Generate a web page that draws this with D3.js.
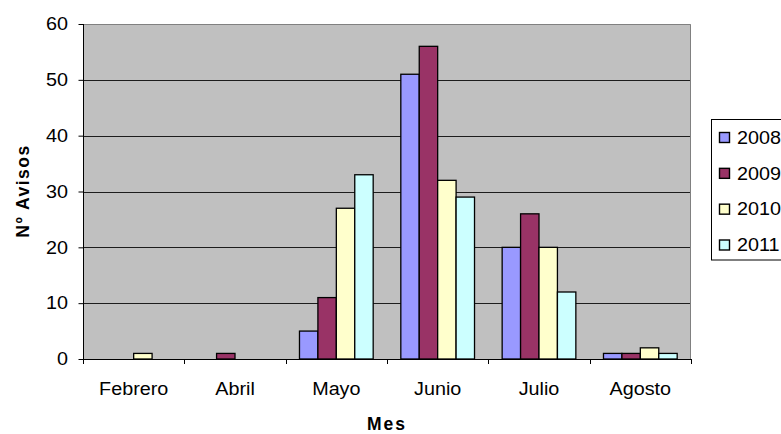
<!DOCTYPE html>
<html>
<head>
<meta charset="utf-8">
<script src="https://cdn.jsdelivr.net/npm/d3@7"></script>
<style>
  html, body { margin: 0; padding: 0; background: #fff; }
  svg { display: block; }
  text { font-family: "Liberation Sans", Arial, sans-serif; fill: #000; }
</style>
</head>
<body>
<svg id="chart" width="781" height="434"></svg>
<script>
// ---- data ----
const months = ["Febrero", "Abril", "Mayo", "Junio", "Julio", "Agosto"];
const seriesNames = ["2008", "2009", "2010", "2011"];
const values2008 = [0, 0, 5, 51, 20, 1];
const values2009 = [0, 1, 11, 56, 26, 1];
const values2010 = [1, 0, 27, 32, 20, 2];
const values2011 = [0, 0, 33, 29, 12, 1];
const yTicks = [0, 10, 20, 30, 40, 50, 60];
const seriesColors = ["#9999FF", "#993366", "#FFFFCC", "#CCFFFF"];
const yTitle = "Nº Avisos";
const xTitle = "Mes";

const allSeries = [values2008, values2009, values2010, values2011];

// ---- layout ----
const W = 781, H = 434;
const plot = { left: 83, right: 691, top: 24, bottom: 359 };
const fontSize = 17.5, sx = 1.13;

const svg = d3.select("#chart");

const x = d3.scaleBand().domain(months).range([plot.left, plot.right]).padding(0);
const bw = x.bandwidth();
const barW = bw / 5.5;
const xs = d3.scaleBand().domain(seriesNames)
  .range([0.75 * barW, 0.75 * barW + 4 * barW]).padding(0);
const y = d3.scaleLinear().domain([0, 60]).range([plot.bottom, plot.top]);

// plot background
svg.append("rect")
  .attr("x", plot.left).attr("y", plot.top)
  .attr("width", plot.right - plot.left).attr("height", plot.bottom - plot.top)
  .attr("fill", "#C0C0C0");

// gridlines
svg.append("g").selectAll("line")
  .data(yTicks.filter(d => d > 0 && d < 60))
  .join("line")
  .attr("x1", plot.left).attr("x2", plot.right)
  .attr("y1", d => Math.round(y(d)) + 0.5).attr("y2", d => Math.round(y(d)) + 0.5)
  .attr("stroke", "#000").attr("stroke-width", 1).attr("stroke-opacity", 0.85);

// top and right border
svg.append("path")
  .attr("d", `M${plot.left},${plot.top + 0.5}H${plot.right - 0.5}V${plot.bottom}`)
  .attr("fill", "none").attr("stroke", "#808080").attr("stroke-width", 1);

// bars
const groups = svg.append("g").selectAll("g")
  .data(seriesNames)
  .join("g")
  .attr("fill", (d, i) => seriesColors[i]);

groups.selectAll("rect")
  .data((s, i) => months.map((m, j) => ({ m, s, v: allSeries[i][j] })).filter(d => d.v > 0))
  .join("rect")
  .attr("x", d => x(d.m) + xs(d.s))
  .attr("y", d => y(d.v))
  .attr("width", xs.bandwidth())
  .attr("height", d => y(0) - y(d.v))
  .attr("stroke", "#000")
  .attr("stroke-width", 1.3);

// y axis
const yAxis = d3.axisLeft(y).tickValues(yTicks).tickSize(5).tickPadding(0).tickFormat(() => "");
const gy = svg.append("g").attr("transform", `translate(${plot.left + 0.5},0)`).call(yAxis);
gy.select(".domain").attr("stroke", "#000").attr("d", `M0,${plot.top}V${plot.bottom}`);
gy.selectAll(".tick line").attr("stroke", "#000");

svg.append("g").selectAll("text")
  .data(yTicks)
  .join("text")
  .attr("transform", d => `translate(68,${y(d) + 6.3}) scale(${sx},1)`)
  .attr("text-anchor", "end")
  .attr("font-size", fontSize)
  .text(d => d);

// x axis
const xTickPos = months.map(m => x(m)).concat([plot.right]);
const gx = svg.append("g");
gx.append("line")
  .attr("x1", plot.left).attr("x2", plot.right)
  .attr("y1", plot.bottom + 0.5).attr("y2", plot.bottom + 0.5)
  .attr("stroke", "#000");
gx.selectAll("line.tk")
  .data(xTickPos)
  .join("line").attr("class", "tk")
  .attr("x1", d => Math.round(d) + 0.5).attr("x2", d => Math.round(d) + 0.5)
  .attr("y1", plot.bottom).attr("y2", plot.bottom + 5)
  .attr("stroke", "#000");

svg.append("g").selectAll("text")
  .data(months)
  .join("text")
  .attr("transform", d => `translate(${x(d) + bw / 2},395) scale(${sx},1)`)
  .attr("text-anchor", "middle")
  .attr("font-size", fontSize)
  .text(d => d);

// axis titles
svg.append("text")
  .attr("transform", `translate(${(plot.left + plot.right) / 2},429.5)`)
  .attr("text-anchor", "middle")
  .attr("font-size", fontSize)
  .attr("font-weight", "bold")
  .attr("letter-spacing", 2)
  .text(xTitle);

svg.append("text")
  .attr("transform", `translate(29,191) rotate(-90)`)
  .attr("text-anchor", "middle")
  .attr("font-size", fontSize)
  .attr("font-weight", "bold")
  .attr("letter-spacing", 1.5)
  .text(yTitle);

// legend
const legend = svg.append("g");
legend.append("rect")
  .attr("x", 711.5).attr("y", 119.5)
  .attr("width", 120).attr("height", 140.5)
  .attr("fill", "#fff").attr("stroke", "#000");

const ly = d3.scalePoint().domain(seriesNames).range([137.5, 245]);
const items = legend.selectAll("g.item")
  .data(seriesNames)
  .join("g").attr("class", "item")
  .attr("transform", d => `translate(0,${ly(d)})`);
items.append("rect")
  .attr("x", 719.5).attr("y", -5)
  .attr("width", 10).attr("height", 10)
  .attr("fill", (d, i) => seriesColors[i])
  .attr("stroke", "#000").attr("stroke-width", 1.4);
items.append("text")
  .attr("transform", `translate(737,6.3) scale(${sx},1)`)
  .attr("font-size", fontSize)
  .text(d => d);
</script>
</body>
</html>
